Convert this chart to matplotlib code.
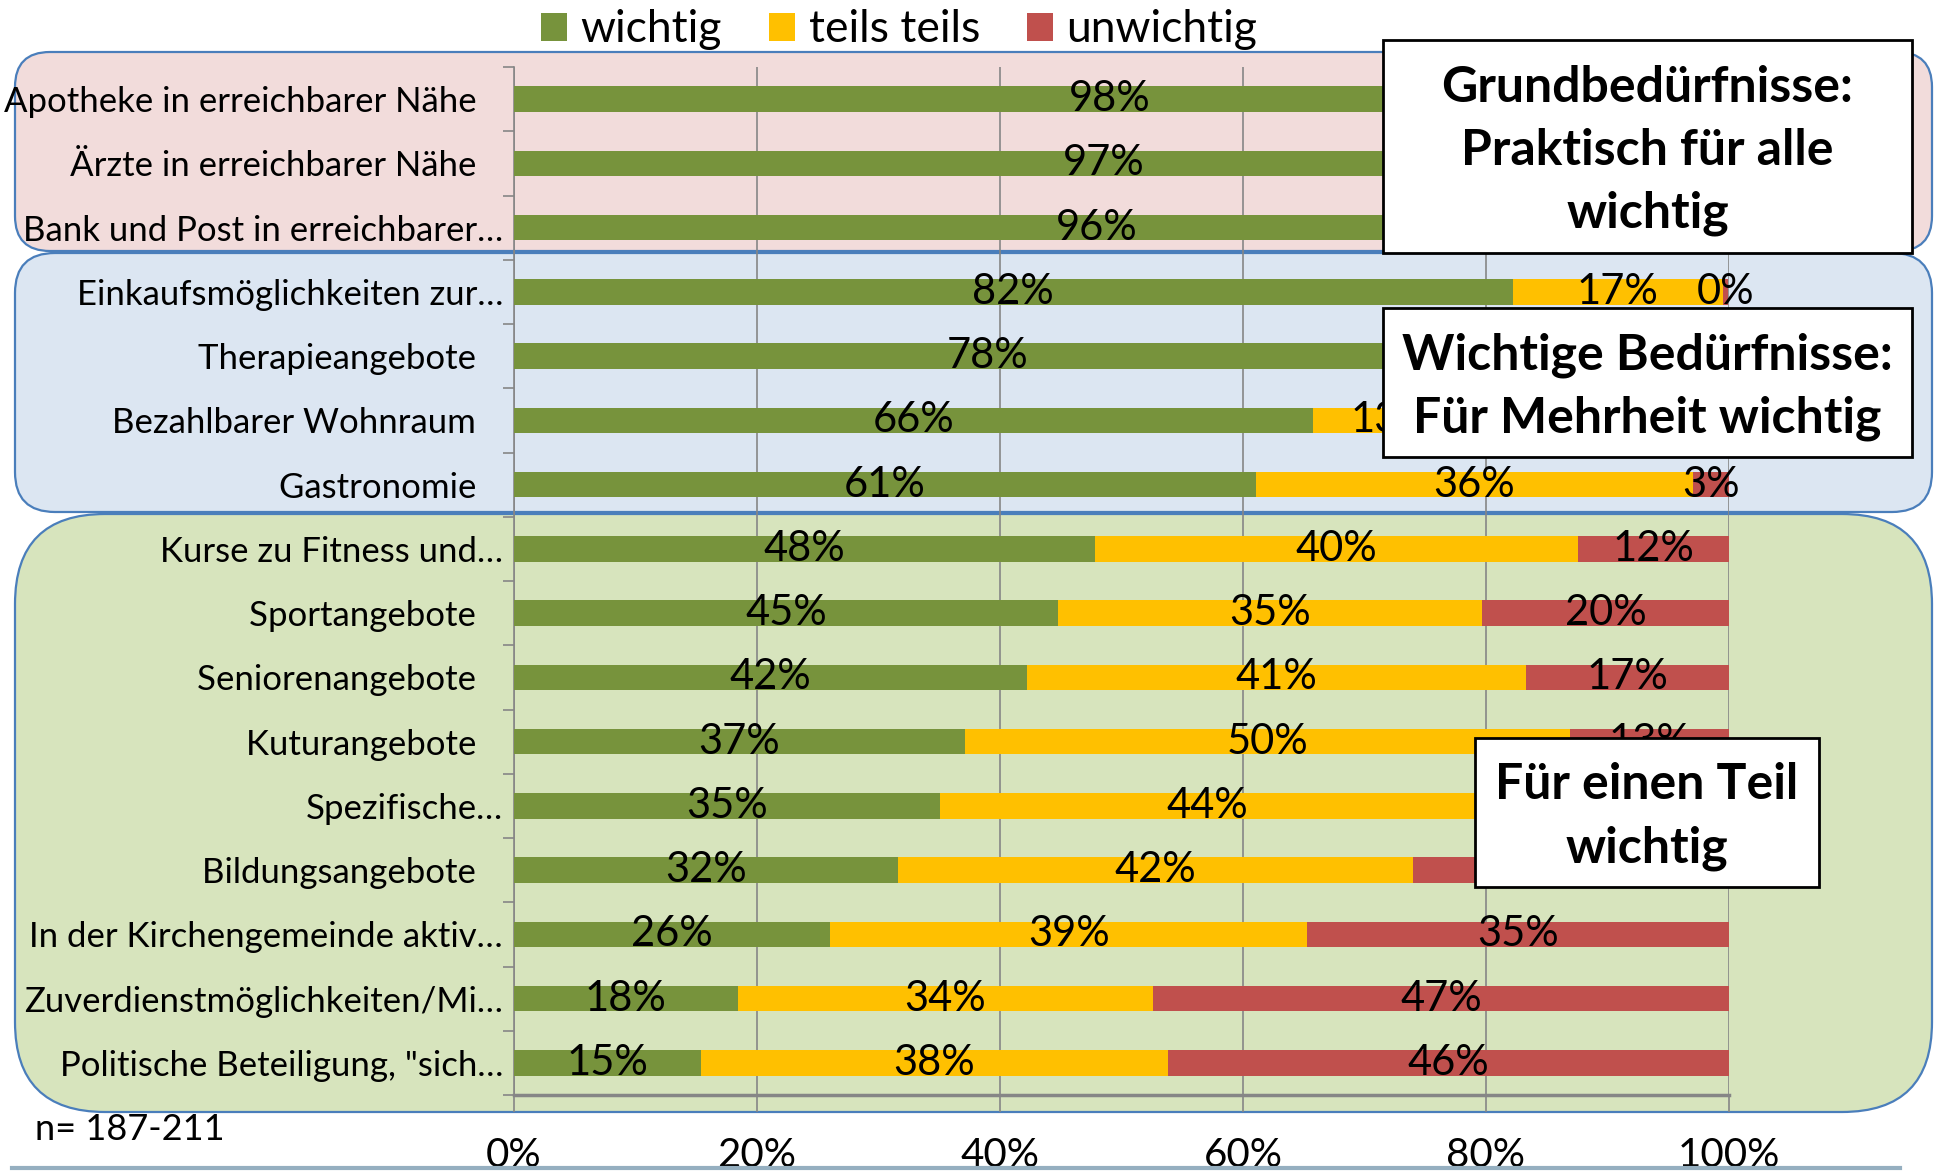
import matplotlib
matplotlib.use('Agg')
import matplotlib.pyplot as plt
from matplotlib.patches import FancyBboxPatch, Rectangle
import numpy as np

plt.rcParams['font.family'] = ['Lato', 'DejaVu Sans']

categories = [
    "Apotheke in erreichbarer Nähe   ",
    "Ärzte in erreichbarer Nähe   ",
    "Bank und Post in erreichbarer…",
    "Einkaufsmöglichkeiten zur…",
    "Therapieangebote   ",
    "Bezahlbarer Wohnraum   ",
    "Gastronomie   ",
    "Kurse zu Fitness und…",
    "Sportangebote   ",
    "Seniorenangebote   ",
    "Kuturangebote   ",
    "Spezifische…",
    "Bildungsangebote   ",
    "In der Kirchengemeinde aktiv…",
    "Zuverdienstmöglichkeiten/Mi…",
    "Politische Beteiligung, \"sich…",
]
wichtig   = [98, 97, 96, 82.2, 78, 65.8, 61.1, 47.8, 44.8, 42.2, 37.1, 35.1, 31.6, 26.0, 18.4, 15.4]
teils     = [2, 3, 4, 17.3, 19, 12.8, 35.9, 39.8, 34.9, 41.1, 49.8, 44.0, 42.4, 39.3, 34.2, 38.4]
unwichtig = [0, 0, 0, 0.4, 3, 21.4, 3.0, 12.4, 20.3, 16.7, 13.1, 20.9, 26.0, 34.7, 47.4, 46.2]
series_names = ['wichtig', 'teils teils', 'unwichtig']
colors = ['#77933C', '#FFC000', '#C0504D']
xticks = [0, 20, 40, 60, 80, 100]
xticklabels = ['0%', '20%', '40%', '60%', '80%', '100%']

W, H = 1936, 1172
fig = plt.figure(figsize=(W / 100, H / 100), dpi=100)
T = fig.dpi_scale_trans

def rect_in(x0, y0, x1, y1):
    return x0 / 100, (H - y1) / 100, (x1 - x0) / 100, (y1 - y0) / 100

# rounded group boxes
for (y0, y1, fc, r) in [(52, 251, '#F2DCDB', 0.35), (253, 512, '#DCE6F2', 0.40), (514, 1112, '#D7E4BD', 0.9)]:
    x, y, w, h = rect_in(15, y0, 1932, y1)
    fig.add_artist(FancyBboxPatch((x, y), w, h, boxstyle=f"round,pad=0,rounding_size={r}",
                                  transform=T, facecolor=fc, edgecolor='#4A7EBB', lw=1.6, zorder=-1))

ax = fig.add_axes([514 / W, 1 - 1095 / H, (1729 - 514) / W, (1095 - 67) / H])
ax.patch.set_alpha(0)

y = np.arange(len(categories))
data = [wichtig, teils, unwichtig]
left = np.zeros(len(categories))
for vals, col, name in zip(data, colors, series_names):
    vals = np.array(vals, dtype=float)
    ax.barh(y, vals, left=left, height=0.4, color=col, label=name, zorder=3)
    for yi, (l, v) in enumerate(zip(left, vals)):
        if v > 0:
            ax.text(l + v / 2, yi, f"{v:.0f}%", ha='center', va='center', fontsize=30, zorder=4)
    left = left + vals

ax.set_xlim(0, 100)
ax.set_ylim(len(categories) - 0.5, -0.5)
ax.set_xticks(xticks)
ax.set_xticklabels(xticklabels, fontsize=29)
ax.set_yticks(y)
ax.set_yticklabels(categories, fontsize=25)
ax.set_yticks(np.arange(len(categories) + 1) - 0.5, minor=True)
ax.tick_params(axis='y', which='major', length=0, pad=8)
ax.tick_params(axis='y', which='minor', length=8, color='#868686', width=1.2)
ax.tick_params(axis='x', length=12, color='#868686', width=1.2, pad=18)
ax.grid(axis='x', color='#868686', lw=1.2, zorder=0)
ax.set_axisbelow(True)
for s in ['top', 'right']:
    ax.spines[s].set_visible(False)
ax.spines['left'].set_color('#868686')
ax.spines['left'].set_linewidth(1.2)
ax.spines['bottom'].set_color('#868686')
ax.spines['bottom'].set_linewidth(2.5)

leg = fig.legend(loc='center', bbox_to_anchor=(899 / W, 1 - 30 / H), ncol=3, frameon=False,
                 fontsize=32, handlelength=0.6, handleheight=0.6, handletextpad=0.3,
                 columnspacing=1.05)

# white annotation boxes
notes = [
    ((1383, 40, 1912, 253), "Grundbedürfnisse:\nPraktisch für alle\nwichtig", 1.48),
    ((1383, 308, 1912, 457), "Wichtige Bedürfnisse:\nFür Mehrheit wichtig", 1.48),
    ((1475, 738, 1819, 887), "Für einen Teil\nwichtig", 1.52),
]
for (x0, y0, x1, y1), txt, ls in notes:
    x, yy, w, h = rect_in(x0, y0, x1, y1)
    fig.add_artist(Rectangle((x, yy), w, h, transform=T, facecolor='white', edgecolor='black', lw=2, zorder=5))
    fig.text((x0 + x1) / 200, (H - (y0 + y1) / 2 - 4) / 100, txt, transform=T, ha='center', va='center',
             multialignment='center', fontsize=36, fontweight='bold', linespacing=ls, zorder=6)

fig.text(35 / W, 1 - 1130 / H, "n= 187-211", fontsize=26, ha='left', va='center')
fig.add_artist(plt.Line2D([12 / W, 1900 / W], [1 - 1168 / H, 1 - 1168 / H], transform=fig.transFigure,
                          color='#95AFC0', lw=3))

fig.savefig('out.png', dpi=100)
